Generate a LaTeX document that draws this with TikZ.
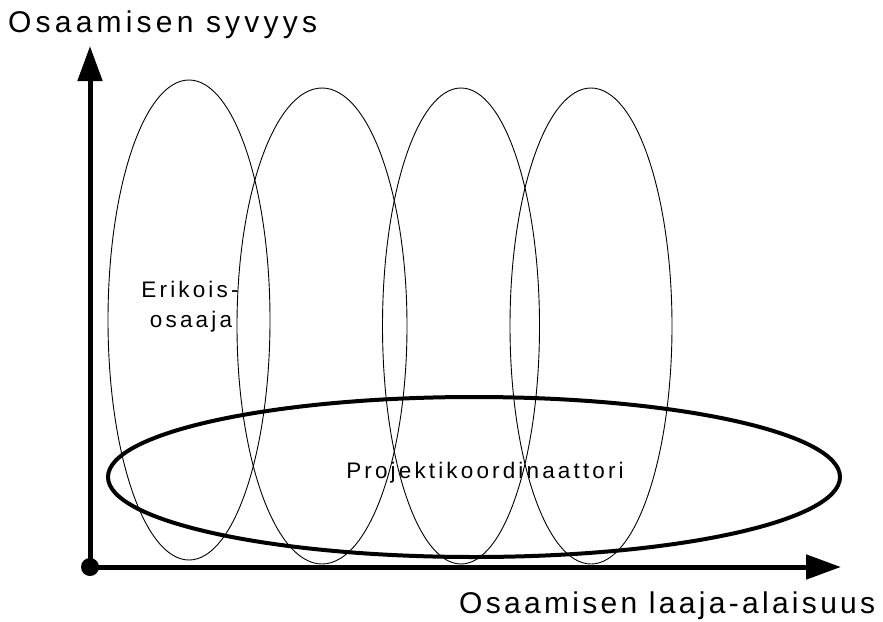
\documentclass[tikz,border=0pt]{standalone}
\usepackage{fontspec}
\setmainfont{Liberation Sans}
\newfontfamily\lsfont[LetterSpace=14]{Liberation Sans}
\newfontfamily\lsxfont[LetterSpace=11]{Liberation Sans}
\newfontfamily\lsyfont[LetterSpace=14]{Liberation Sans}
\usetikzlibrary{arrows.meta,shapes.geometric}
\begin{document}
\begin{tikzpicture}[x=1pt,y=-1pt,
  thinell/.style={draw, ellipse, line width=0.9pt, inner sep=0pt},
  bigell/.style={draw, ellipse, line width=4pt, inner sep=0pt},
  axisline/.style={line width=5pt, -{Triangle[length=35pt,width=24pt]}},
  lbl/.style={font=\lsfont\fontsize{22.5}{30}\selectfont, inner sep=0pt, anchor=base},
  axlbl/.style={inner sep=0pt, anchor=base west}]
\useasboundingbox (0,0) rectangle (883,621);
\node[thinell, minimum width=162pt, minimum height=480pt] (e1) at (189,320) {};
\node[thinell, minimum width=170pt, minimum height=476pt] (e2) at (322,326) {};
\node[thinell, minimum width=157pt, minimum height=476pt] (e3) at (461,326) {};
\node[thinell, minimum width=162pt, minimum height=476pt] (e4) at (591,326) {};
\node[bigell, minimum width=732pt, minimum height=160pt] (proj) at (474,477) {};
\node[lbl] (er1) at (190,297) {Erikois-};
\node[lbl] (er2) at (191,327) {osaaja};
\node[lbl] (pk) at (485,478) {Projektikoordinaattori};
\coordinate (O) at (90,567);
\coordinate (ytip) at (90,46);
\coordinate (xtip) at (841,567);
\draw[axisline] (O) -- (ytip);
\draw[axisline] (O) -- (xtip);
\fill (O) circle (9pt);
\node[axlbl, font=\lsyfont\fontsize{30}{34}\selectfont] (ylab) at (8,32) {Osaamisen syvyys};
\node[axlbl, font=\lsxfont\fontsize{30}{34}\selectfont] (xlab) at (459,613) {Osaamisen laaja-alaisuus};
\end{tikzpicture}
\end{document}
